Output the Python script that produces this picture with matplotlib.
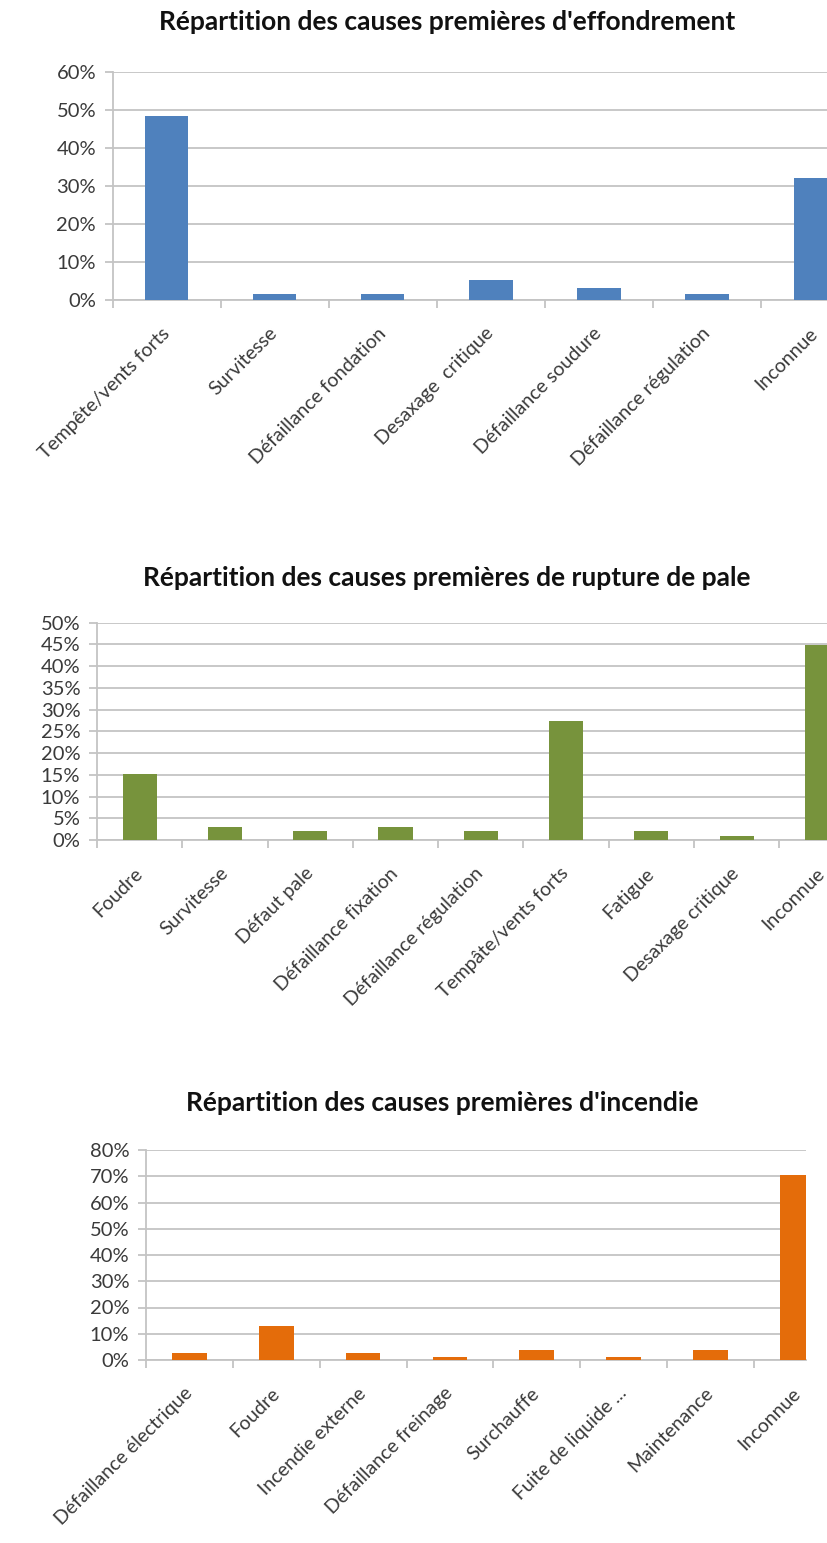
import numpy as np
import matplotlib
matplotlib.use('Agg')
import matplotlib.pyplot as plt
from matplotlib.ticker import PercentFormatter

plt.rcParams['font.family'] = ['Lato', 'DejaVu Sans']

# --- data ---
titles = ["Répartition des causes premières d'effondrement",
          "Répartition des causes premières de rupture de pale",
          "Répartition des causes premières d'incendie"]

effondrement_labels = ["Tempête/vents forts", "Survitesse", "Défaillance fondation",
                       "Desaxage  critique", "Défaillance soudure",
                       "Défaillance régulation", "Inconnue"]
effondrement_vals = [0.484, 0.016, 0.016, 0.053, 0.032, 0.016, 0.321]

pale_labels = ["Foudre", "Survitesse", "Défaut pale", "Défaillance fixation",
               "Défaillance régulation", "Tempâte/vents forts", "Fatigue",
               "Desaxage critique", "Inconnue"]
pale_vals = [0.151, 0.031, 0.021, 0.031, 0.021, 0.274, 0.021, 0.010, 0.449]

incendie_labels = ["Défaillance électrique", "Foudre", "Incendie externe",
                   "Défaillance freinage", "Surchauffe", "Fuite de liquide ...",
                   "Maintenance", "Inconnue"]
incendie_vals = [0.027, 0.130, 0.027, 0.013, 0.040, 0.013, 0.040, 0.703]

W, H = 827, 1543
fig = plt.figure(figsize=(W / 100, H / 100), dpi=100)

GRID = '#C4C4C4'
TXT = '#3A3A3A'


def make_chart(labels, vals, color, left, right, y0, ytop, ymax, ystep, xright, title, tx, ty):
    ax = fig.add_axes([left / W, 1 - y0 / H, (right - left) / W, (y0 - ytop) / H])
    n = len(vals)
    x = np.arange(n)
    ax.bar(x, vals, width=0.4, color=color, zorder=3)
    ax.set_yticks(np.arange(0, ymax + 1e-9, ystep))
    ax.yaxis.set_major_formatter(PercentFormatter(1.0, decimals=0))
    ax.yaxis.grid(True, color=GRID, lw=1.3, zorder=0)
    ax.set_axisbelow(True)
    for s in ['top', 'right']:
        ax.spines[s].set_visible(False)
    ax.spines['left'].set_color(GRID)
    ax.spines['bottom'].set_color(GRID)
    ax.spines['left'].set_linewidth(1.3)
    ax.spines['bottom'].set_linewidth(1.3)
    ax.set_xticks(x)
    ax.set_xticklabels(labels, rotation=45, ha='right', va='center',
                       rotation_mode='anchor', fontsize=14, color=TXT)
    ax.set_xticks(np.arange(-0.5, n), minor=True)
    ax.tick_params(axis='x', which='major', length=0, pad=22)
    ax.tick_params(axis='x', which='minor', length=6, color=GRID, width=1.3)
    ax.tick_params(axis='y', length=6, color=GRID, width=1.3, labelsize=14.5,
                   labelcolor=TXT, pad=6)
    # limits last, so the tick setters do not widen them
    ax.set_ylim(0, ymax)
    ax.set_xlim(-0.5, xright)
    fig.text(tx / W, 1 - ty / H, title, ha='center', va='center',
             fontsize=19, fontweight='bold', color='#111111')
    return ax


make_chart(effondrement_labels, effondrement_vals, '#4F81BD',
           112.7, 827, 300, 72.3, 0.6, 0.1, 6.11, titles[0], 447, 22)
make_chart(pale_labels, pale_vals, '#77933C',
           97, 827, 840, 622.7, 0.5, 0.05, 8.06, titles[1], 447, 578)
make_chart(incendie_labels, incendie_vals, '#E46C0A',
           146, 806, 1360, 1150, 0.8, 0.1, 7.1, titles[2], 442, 1103)

fig.savefig('out.png', dpi=100, facecolor='white')
